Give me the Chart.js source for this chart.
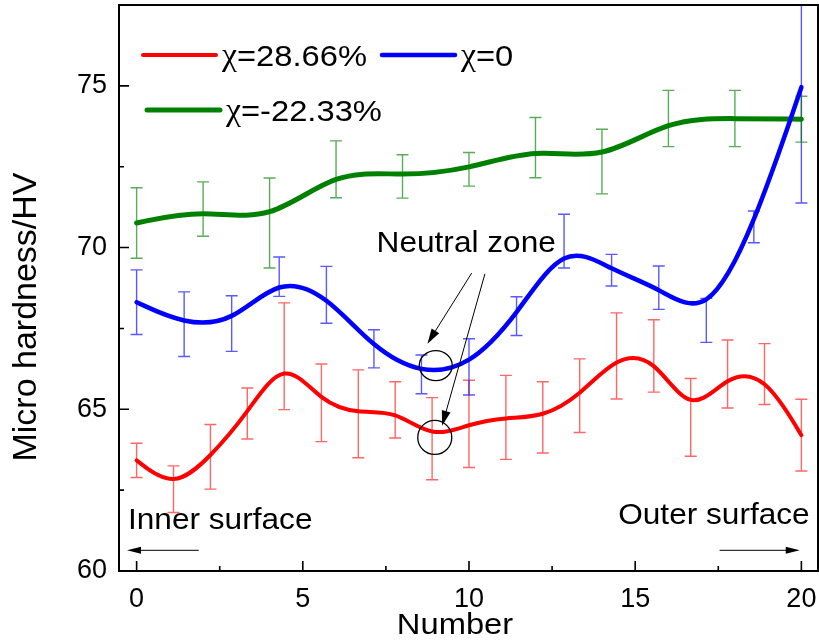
<!DOCTYPE html>
<html>
<head>
<meta charset="utf-8">
<script src="https://cdn.jsdelivr.net/npm/chart.js@4.4.0/dist/chart.umd.min.js"></script>
<style>
html, body { margin: 0; padding: 0; background: #fff; }
</style>
</head>
<body>
<canvas id="myChart" width="819" height="641"></canvas>
<script>
var redX = [0, 1.11, 2.22, 3.33, 4.44, 5.56, 6.67, 7.78, 8.89, 10, 11.11, 12.22, 13.33, 14.44, 15.56, 16.67, 17.78, 18.89, 20];
var redY = [63.42, 62.53, 63.53, 64.87, 66.64, 65.2, 64.86, 64.98, 64.09, 64.55, 64.75, 64.75, 65.42, 66.65, 66.65, 64.75, 66.09, 66.09, 64.2];
var redErr = [0.53, 0.72, 1.0, 0.79, 1.65, 1.2, 1.36, 0.87, 1.27, 1.35, 1.3, 1.1, 1.14, 1.33, 1.12, 1.2, 1.05, 0.94, 1.11];

var blueX = [0, 1.43, 2.86, 4.29, 5.71, 7.14, 8.57, 10, 11.43, 12.86, 14.29, 15.71, 17.14, 18.57, 20];
var blueY = [68.31, 67.63, 67.65, 69.1, 68.54, 66.87, 66.08, 66.31, 67.88, 70.2, 69.3, 68.76, 67.75, 70.64, 74.96];
var blueErr = [1.0, 1.0, 0.86, 0.61, 0.88, 0.59, 0.6, 0.87, 0.6, 0.83, 0.49, 0.67, 0.68, 0.49, 3.58];

var greenX = [0, 2, 4, 6, 8, 10, 12, 14, 16, 18, 20];
var greenY = [70.76, 71.19, 70.76, 72.42, 72.2, 72.42, 73.09, 72.66, 73.99, 73.99, 73.97];
var greenErr = [1.09, 0.84, 1.39, 0.88, 0.67, 0.52, 0.93, 1.0, 0.87, 0.87, 0.71];

var seriesLabels = ['χ=28.66%', 'χ=0', 'χ=-22.33%'];
var xTitle = 'Number';
var yTitle = 'Micro hardness/HV';

var sans = '"Liberation Sans", Arial, sans-serif';
var serif = '"Liberation Serif", "Times New Roman", serif';
var stretch = 1.09; // the original lettering is a bit wider than plain Arial

function toPoints(xs, ys) {
  return xs.map(function(x, i) { return { x: x, y: ys[i] }; });
}

// Origin style B-spline through the data points (ends clamped)
function drawBSpline(ctx, pts) {
  var n = pts.length;
  var p = [pts[0], pts[0]].concat(pts, [pts[n - 1], pts[n - 1]]);
  ctx.beginPath();
  ctx.moveTo(pts[0].x, pts[0].y);
  for (var i = 0; i + 3 < p.length; i++) {
    var b = p[i + 1], c = p[i + 2], d = p[i + 3];
    ctx.bezierCurveTo((2 * b.x + c.x) / 3, (2 * b.y + c.y) / 3,
                      (b.x + 2 * c.x) / 3, (b.y + 2 * c.y) / 3,
                      (b.x + 4 * c.x + d.x) / 6, (b.y + 4 * c.y + d.y) / 6);
  }
  ctx.stroke();
}

function arrow(ctx, x1, y1, x2, y2, len, half) {
  var a = Math.atan2(y2 - y1, x2 - x1);
  ctx.beginPath();
  ctx.moveTo(x1, y1);
  ctx.lineTo(x2 - Math.cos(a) * len * 0.8, y2 - Math.sin(a) * len * 0.8);
  ctx.stroke();
  ctx.beginPath();
  ctx.moveTo(x2, y2);
  ctx.lineTo(x2 - Math.cos(a) * len - Math.sin(a) * half, y2 - Math.sin(a) * len + Math.cos(a) * half);
  ctx.lineTo(x2 - Math.cos(a) * len + Math.sin(a) * half, y2 - Math.sin(a) * len - Math.cos(a) * half);
  ctx.closePath();
  ctx.fill();
}

// text widened horizontally around its anchor
function wideText(ctx, str, x, y, align) {
  ctx.save();
  ctx.translate(x, y);
  ctx.scale(stretch, 1);
  ctx.textAlign = align || 'left';
  ctx.fillText(str, 0, 0);
  ctx.restore();
}

var curvePlugin = {
  id: 'curves',
  afterDatasetsDraw: function(chart) {
    var ctx = chart.ctx;
    var area = chart.chartArea;
    var yScale = chart.scales.y;
    ctx.save();
    ctx.beginPath();
    ctx.rect(area.left, area.top, area.right - area.left, area.bottom - area.top);
    ctx.clip();
    // error bars first
    chart.data.datasets.forEach(function(ds, di) {
      var meta = chart.getDatasetMeta(di);
      ctx.strokeStyle = ds.errColor;
      ctx.lineWidth = 1.4;
      meta.data.forEach(function(pt, i) {
        var v = ds.data[i].y, e = ds.errors[i];
        var top = yScale.getPixelForValue(v + e);
        var bot = yScale.getPixelForValue(v - e);
        ctx.beginPath();
        ctx.moveTo(pt.x, top); ctx.lineTo(pt.x, bot);
        ctx.moveTo(pt.x - 6, top); ctx.lineTo(pt.x + 6, top);
        ctx.moveTo(pt.x - 6, bot); ctx.lineTo(pt.x + 6, bot);
        ctx.stroke();
      });
    });
    // smooth lines
    [2, 0, 1].forEach(function(di) {
      var ds = chart.data.datasets[di];
      var meta = chart.getDatasetMeta(di);
      ctx.strokeStyle = ds.borderColor;
      ctx.lineWidth = ds.borderWidth;
      ctx.lineJoin = 'round';
      ctx.lineCap = 'round';
      drawBSpline(ctx, meta.data.map(function(p) { return { x: p.x, y: p.y }; }));
    });
    ctx.restore();
  }
};

var framePlugin = {
  id: 'frame',
  afterDraw: function(chart) {
    var ctx = chart.ctx;
    var a = chart.chartArea;
    var xs = chart.scales.x, ys = chart.scales.y;
    ctx.save();
    ctx.strokeStyle = '#000';
    ctx.lineWidth = 2;
    ctx.strokeRect(a.left, a.top, a.right - a.left, a.bottom - a.top);
    ctx.lineWidth = 1.6;
    ctx.beginPath();
    xs.ticks.forEach(function(t) {
      var px = xs.getPixelForValue(t.value);
      ctx.moveTo(px, a.bottom); ctx.lineTo(px, a.bottom - 10);
      var mx = xs.getPixelForValue(t.value + 2.5);
      if (t.value + 2.5 < xs.max) { ctx.moveTo(mx, a.bottom); ctx.lineTo(mx, a.bottom - 5); }
    });
    ys.ticks.forEach(function(t) {
      var py = ys.getPixelForValue(t.value);
      ctx.moveTo(a.left, py); ctx.lineTo(a.left + 10, py);
      var my = ys.getPixelForValue(t.value + 2.5);
      if (t.value + 2.5 < ys.max) { ctx.moveTo(a.left, my); ctx.lineTo(a.left + 5, my); }
    });
    ctx.stroke();

    // axis titles, placed like the original (not exactly centred)
    ctx.fillStyle = '#000';
    ctx.textBaseline = 'alphabetic';
    ctx.font = '30px ' + sans;
    wideText(ctx, xTitle, a.left + 336, 634, 'center');
    ctx.font = '34px ' + sans;
    ctx.translate(36, a.top + 312);
    ctx.rotate(-Math.PI / 2);
    ctx.textAlign = 'center';
    ctx.fillText(yTitle, 0, 0);
    ctx.restore();
  }
};

// legend drawn inside the plot, two rows
var legendPlugin = {
  id: 'insideLegend',
  afterDraw: function(chart) {
    var ctx = chart.ctx;
    var a = chart.chartArea;
    var spots = [
      { x: 24, y: 50 },
      { x: 263, y: 50 },
      { x: 28, y: 105 }
    ];
    ctx.save();
    chart.data.datasets.forEach(function(ds, i) {
      var s = spots[i];
      var x = a.left + s.x, y = a.top + s.y;
      ctx.strokeStyle = ds.borderColor;
      ctx.lineWidth = ds.borderWidth;
      ctx.lineCap = 'round';
      ctx.beginPath();
      ctx.moveTo(x, y); ctx.lineTo(x + 73, y);
      ctx.stroke();
      ctx.fillStyle = '#000';
      ctx.textBaseline = 'alphabetic';
      ctx.font = '31px ' + serif;
      var chi = ds.label.charAt(0);
      wideText(ctx, chi, x + 79, y + 10);
      var w = ctx.measureText(chi).width * stretch;
      ctx.font = '30px ' + sans;
      wideText(ctx, ds.label.slice(1), x + 79 + w, y + 11);
    });
    ctx.restore();
  }
};

var notePlugin = {
  id: 'notes',
  afterDraw: function(chart) {
    var ctx = chart.ctx;
    var xs = chart.scales.x, ys = chart.scales.y;
    function X(v) { return xs.getPixelForValue(v); }
    function Y(v) { return ys.getPixelForValue(v); }
    ctx.save();
    ctx.fillStyle = '#000';
    ctx.strokeStyle = '#000';
    ctx.font = '29px ' + sans;
    ctx.textBaseline = 'alphabetic';
    wideText(ctx, 'Neutral zone', X(7.22), Y(69.85));
    wideText(ctx, 'Inner surface', X(-0.26), Y(61.29));
    wideText(ctx, 'Outer surface', X(20.25), Y(61.45), 'right');
    ctx.lineWidth = 1;
    arrow(ctx, X(10.08), Y(69.21), X(8.75), Y(67.03), 15, 4.5);
    arrow(ctx, X(10.48), Y(69.19), X(9.19), Y(64.49), 15, 4.5);
    arrow(ctx, X(1.87), Y(60.64), X(-0.29), Y(60.64), 14, 3.5);
    arrow(ctx, X(17.54), Y(60.64), X(19.95), Y(60.64), 14, 3.5);
    ctx.lineWidth = 1.3;
    ctx.beginPath();
    ctx.ellipse(X(9.0), Y(66.35), 16.5, 15, 0, 0, Math.PI * 2);
    ctx.stroke();
    ctx.beginPath();
    ctx.ellipse(X(8.97), Y(64.13), 17, 17, 0, 0, Math.PI * 2);
    ctx.stroke();
    ctx.restore();
  }
};

var ctx = document.getElementById('myChart').getContext('2d');

var myChart = new Chart(ctx, {
  type: 'line',
  data: {
    datasets: [{
      label: seriesLabels[0],
      data: toPoints(redX, redY),
      errors: redErr,
      borderColor: '#ff0000',
      errColor: 'rgba(255, 0, 0, 0.6)',
      borderWidth: 4
    }, {
      label: seriesLabels[1],
      data: toPoints(blueX, blueY),
      errors: blueErr,
      borderColor: '#0000ff',
      errColor: 'rgba(0, 0, 255, 0.65)',
      borderWidth: 4.5
    }, {
      label: seriesLabels[2],
      data: toPoints(greenX, greenY),
      errors: greenErr,
      borderColor: '#008000',
      errColor: 'rgba(0, 128, 0, 0.65)',
      borderWidth: 5
    }]
  },
  options: {
    responsive: false,
    animation: false,
    devicePixelRatio: 1,
    showLine: false,
    pointRadius: 0,
    pointHoverRadius: 0,
    layout: { padding: { top: 5, right: 1, left: 0, bottom: 0 } },
    plugins: {
      legend: { display: false },
      tooltip: { enabled: false }
    },
    scales: {
      x: {
        type: 'linear',
        min: -0.53,
        max: 20.5,
        grid: { display: false, drawTicks: false },
        border: { display: false },
        ticks: {
          stepSize: 5,
          includeBounds: false,
          color: '#000',
          padding: 12,
          maxRotation: 0,
          font: { family: sans, size: 27 }
        },
        title: { display: false },
        afterFit: function(s) {
          s.height = 70;
          s.paddingLeft = 0;
          s.paddingRight = 0;
        }
      },
      y: {
        type: 'linear',
        min: 60,
        max: 77.5,
        grid: { display: false, drawTicks: false },
        border: { display: false },
        ticks: {
          stepSize: 5,
          includeBounds: false,
          color: '#000',
          padding: 12,
          font: { family: sans, size: 27 }
        },
        title: { display: false },
        afterFit: function(s) {
          s.width = 119;
          s.paddingTop = 0;
          s.paddingBottom = 0;
        }
      }
    }
  },
  plugins: [curvePlugin, framePlugin, legendPlugin, notePlugin]
});
</script>
</body>
</html>
